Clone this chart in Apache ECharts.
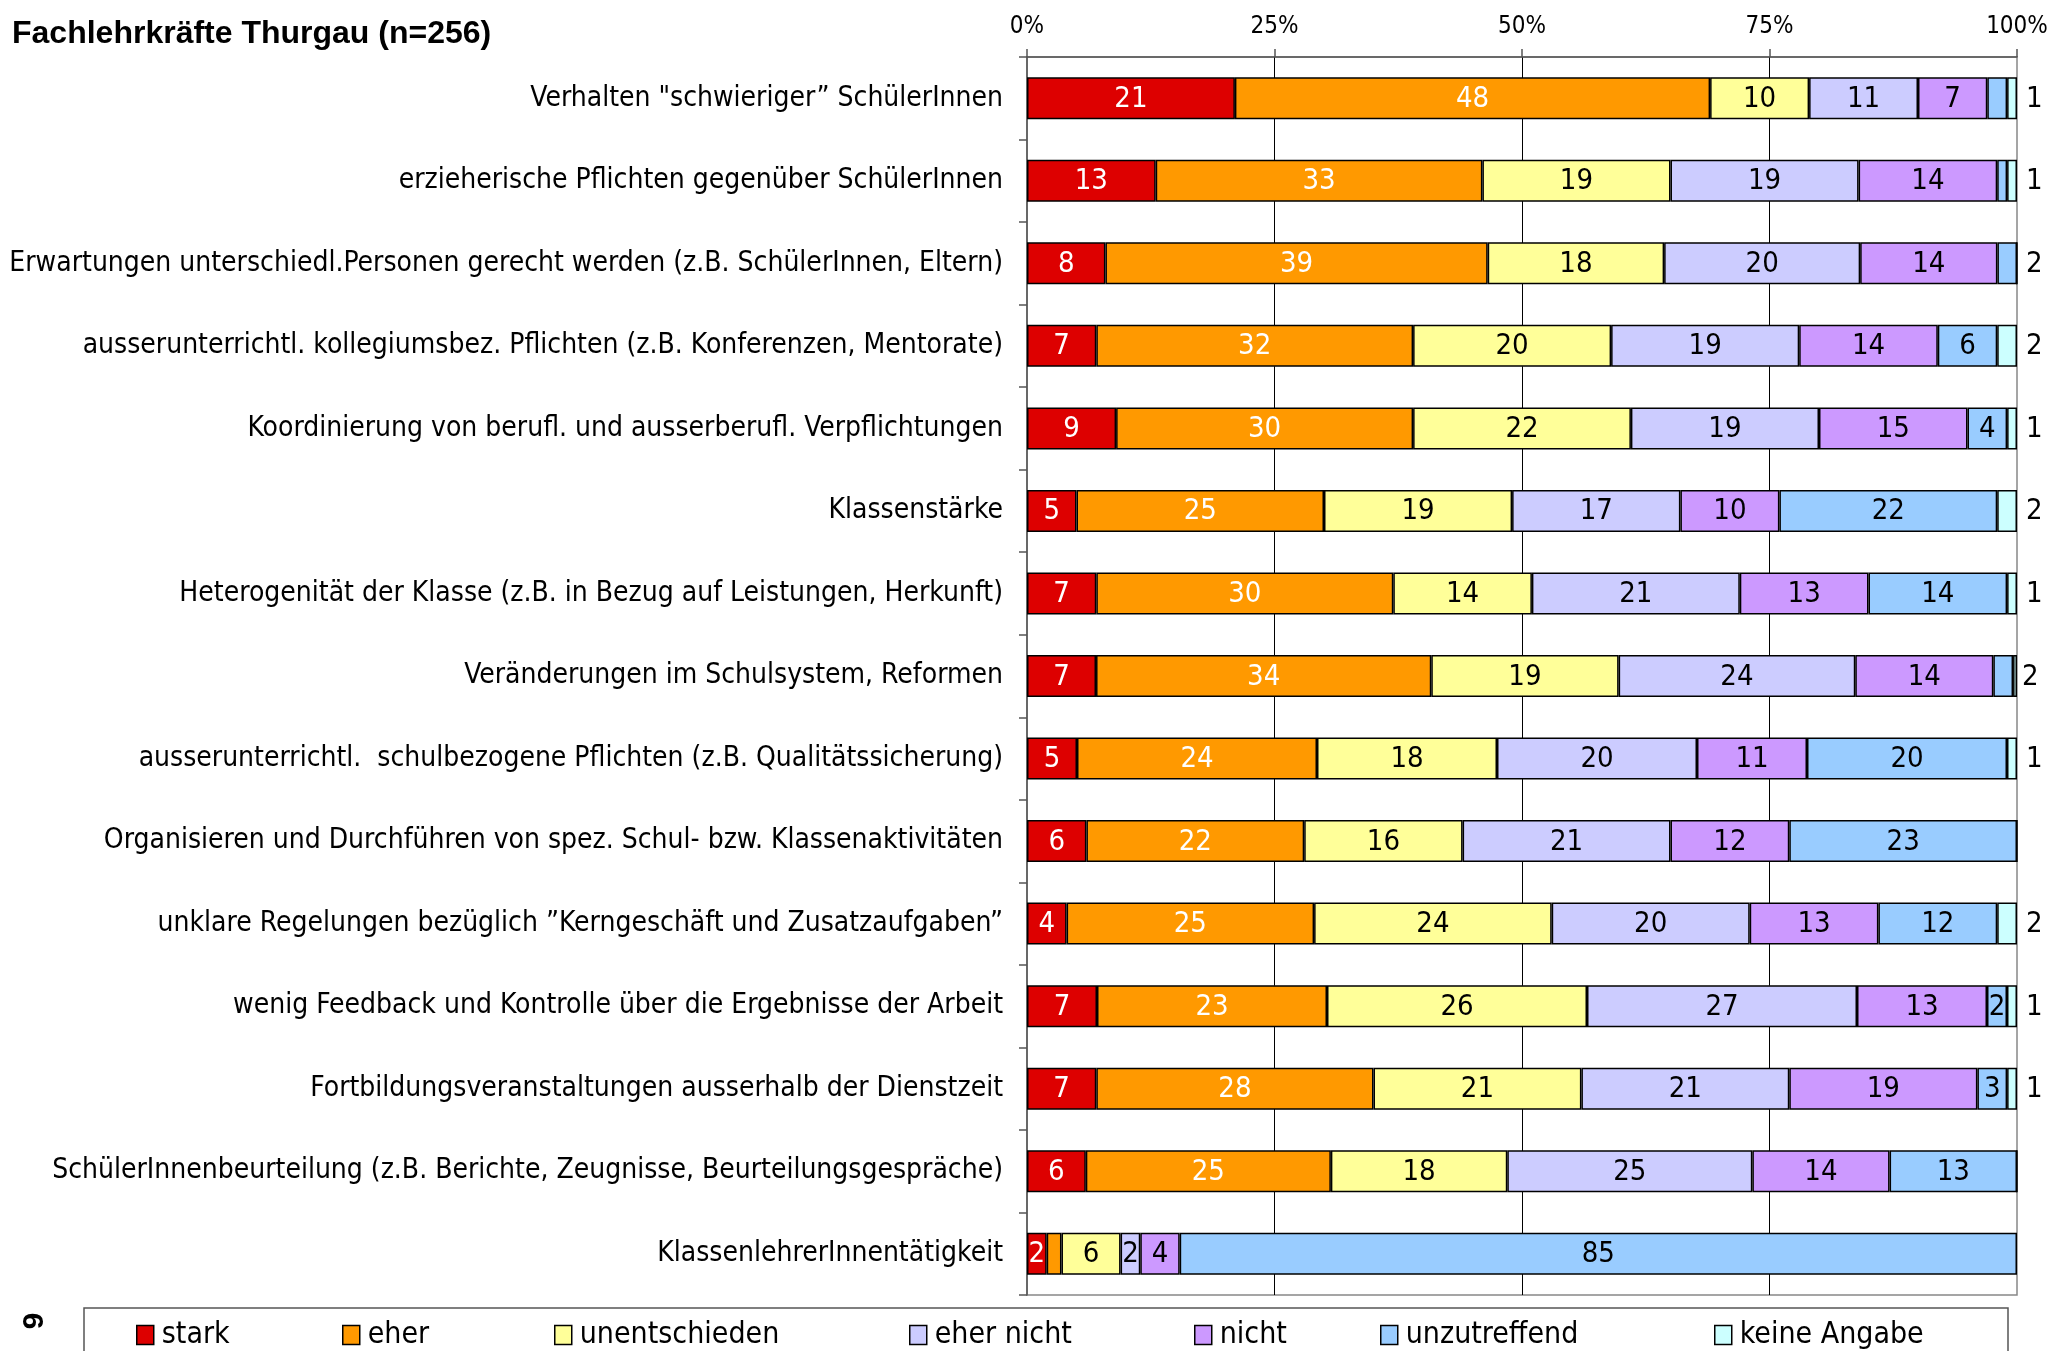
<!DOCTYPE html>
<html><head><meta charset="utf-8">
<script src="https://cdn.jsdelivr.net/npm/echarts@6/dist/echarts.min.js"></script>
<style>html,body{margin:0;padding:0;background:#fff}#c{width:2048px;height:1351px}</style>
</head><body><div id="c"></div>
<script>
const categories = [
  'Verhalten "schwieriger\u201D SchülerInnen',
  'erzieherische Pflichten gegenüber SchülerInnen',
  'Erwartungen unterschiedl.Personen gerecht werden (z.B. SchülerInnen, Eltern)',
  'ausserunterrichtl. kollegiumsbez. Pflichten (z.B. Konferenzen, Mentorate)',
  'Koordinierung von berufl. und ausserberufl. Verpflichtungen',
  'Klassenstärke',
  'Heterogenität der Klasse (z.B. in Bezug auf Leistungen, Herkunft)',
  'Veränderungen im Schulsystem, Reformen',
  'ausserunterrichtl.  schulbezogene Pflichten (z.B. Qualitätssicherung)',
  'Organisieren und Durchführen von spez. Schul- bzw. Klassenaktivitäten',
  'unklare Regelungen bezüglich \u201DKerngeschäft und Zusatzaufgaben\u201D',
  'wenig Feedback und Kontrolle über die Ergebnisse der Arbeit',
  'Fortbildungsveranstaltungen ausserhalb der Dienstzeit',
  'SchülerInnenbeurteilung (z.B. Berichte, Zeugnisse, Beurteilungsgespräche)',
  'KlassenlehrerInnentätigkeit'
];
const stark         = [21,13, 8, 7, 9, 5, 7, 7, 5, 6, 4, 7, 7, 6, 2];
const eher          = [48,33,39,32,30,25,30,34,24,22,25,23,28,25,1.5];
const unentschieden = [10,19,18,20,22,19,14,19,18,16,24,26,21,18, 6];
const eherNicht     = [11,19,20,19,19,17,21,24,20,21,20,27,21,25, 2];
const nicht         = [ 7,14,14,14,15,10,13,14,11,12,13,13,19,14, 4];
const unzutreffend  = [ 2, 1, 2, 6, 4,22,14, 2,20,23,12, 2, 3,13,85];
const keineAngabe   = [ 1, 1, 0, 2, 1, 2, 1,0.4,1, 0, 2, 1, 1, 0, 0];
const seriesNames = ['stark','eher','unentschieden','eher nicht','nicht','unzutreffend','keine Angabe'];
const xTicks = ['0%','25%','50%','75%','100%'];
// rows whose value label is not shown / shown outside at the bar end
const hiddenLabelRows = {'eher':[14], 'unzutreffend':[0,1], 'keine Angabe':[7]};
const outsideLabelRows = {'unzutreffend':[2,7], 'keine Angabe':[0,1,3,4,5,6,8,10,11,12]};

const NARROW = '"DejaVu Sans Condensed","Liberation Sans Narrow",sans-serif';
const colors = ['#DD0000','#FF9900','#FFFF99','#CCCCFF','#CC99FF','#99CCFF','#CCFFFF'];
const labelColors = ['#fff','#fff','#000','#000','#000','#000','#000'];
const seriesData = [stark, eher, unentschieden, eherNicht, nicht, unzutreffend, keineAngabe];
const rowSum = categories.map((_, j) => seriesData.reduce((s, a) => s + a[j], 0));

const series = seriesData.map((arr, si) => {
  const name = seriesNames[si];
  const hid = hiddenLabelRows[name] || [];
  const out = outsideLabelRows[name] || [];
  return {
    name, type: 'bar', stack: 'total', barWidth: 42,
    itemStyle: {color: colors[si], borderColor: '#000', borderWidth: 1.5},
    emphasis: {disabled: true},
    label: {show: true, position: 'inside', color: labelColors[si], fontSize: 29, offset: [0, 1],
            fontFamily: NARROW, formatter: p => String(p.data.raw)},
    data: arr.map((v, j) => {
      const item = {value: v / rowSum[j] * 100, raw: v};
      if (out.includes(j)) item.label = {show: true, position: 'right', distance: 9, color: '#000'};
      else if (v === 0 || hid.includes(j) || si === 6) item.label = {show: false};
      return item;
    })
  };
});

const legendX = [136, 342, 554, 909, 1194, 1380, 1714];
const legends = seriesNames.map((n, i) => ({
  data: [n], left: legendX[i], top: 1320, padding: 0, itemWidth: 17, itemHeight: 19,
  icon: 'rect', itemGap: 0, selectedMode: false,
  itemStyle: {borderColor: '#000', borderWidth: 1.5},
  textStyle: {fontSize: 30, fontFamily: NARROW, color: '#000', padding: [0, 0, 0, 3]}
}));

const chart = echarts.init(document.getElementById('c'), null, {renderer: 'canvas'});
chart.setOption({
  animation: false,
  backgroundColor: '#fff',
  title: {text: 'Fachlehrkräfte Thurgau (n=256)', left: 12, top: 18, padding: 0,
          textStyle: {fontSize: 32, fontWeight: 'bold', fontFamily: '"Liberation Sans",Arial,sans-serif', color: '#000'}},
  legend: legends,
  grid: {left: 1027, right: 31, top: 57, bottom: 56, containLabel: false, outerBoundsMode: 'none',
         show: true, borderColor: '#888', borderWidth: 1.5, backgroundColor: 'transparent'},
  xAxis: {type: 'value', position: 'top', min: 0, max: 100, interval: 25,
    axisLine: {show: true, lineStyle: {color: '#555', width: 1.5}},
    axisTick: {show: true, length: 8, lineStyle: {color: '#555', width: 1.5}},
    axisLabel: {fontSize: 24, fontFamily: NARROW, color: '#000', margin: 18, formatter: v => xTicks[Math.round(v / 25)]},
    splitLine: {show: true, showMinLine: false, showMaxLine: false, lineStyle: {color: '#000', width: 1}}
  },
  yAxis: {type: 'category', inverse: true, data: categories,
    axisLine: {show: true, lineStyle: {color: '#555', width: 1.5}},
    axisTick: {show: true, length: 8, lineStyle: {color: '#555', width: 1.5}},
    axisLabel: {fontSize: 28, fontFamily: NARROW, color: '#000', margin: 24, padding: [4, 0, 0, 0]}
  },
  graphic: [
    {type: 'rect', shape: {x: 84, y: 1308, width: 1924, height: 80}, style: {fill: 'none', stroke: '#555', lineWidth: 1.5}, z: 0},
    {type: 'text', x: 31, y: 1321, rotation: -Math.PI / 2,
     style: {text: '6', font: 'bold 30px "Liberation Sans",Arial,sans-serif', fill: '#000', textAlign: 'center', textVerticalAlign: 'middle'}}
  ],
  series
});
</script></body></html>
